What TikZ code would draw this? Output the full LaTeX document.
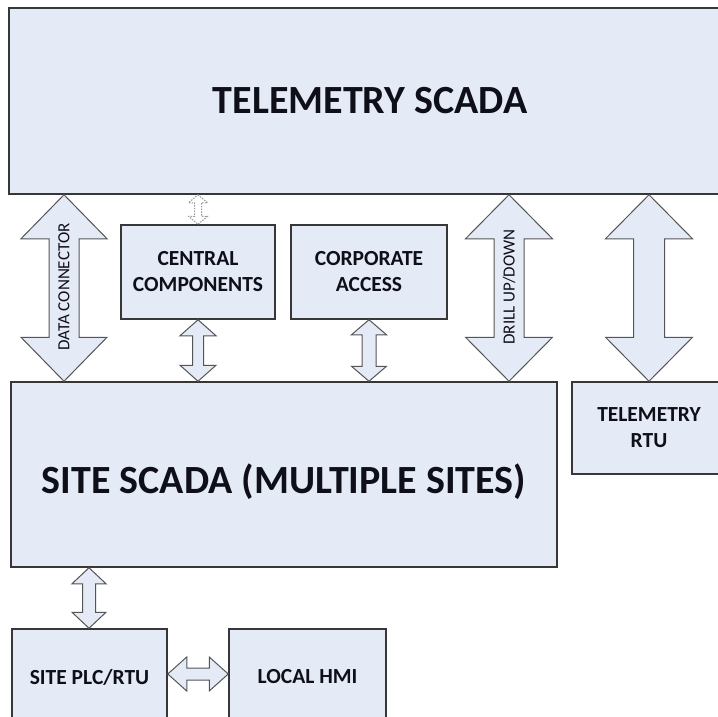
\documentclass[tikz,border=0pt]{standalone}
\usepackage{fontspec}
\setmainfont{Carlito}
\usetikzlibrary{calc}
\definecolor{boxfill}{RGB}{229,235,246}
\definecolor{boxline}{RGB}{55,55,55}
\definecolor{arrline}{RGB}{85,85,85}
\definecolor{txt}{RGB}{15,15,25}
\tikzset{
  blk/.style={draw=boxline, line width=1.5pt, fill=boxfill, rectangle, inner sep=0pt,
    align=center, text=txt, font=\bfseries\fontsize{21.5}{26}\selectfont},
  bigblk/.style={blk, font=\bfseries\fontsize{40}{46}\selectfont},
  bigtext/.style={inner sep=0pt, text=txt, font=\bfseries\fontsize{40}{46}\selectfont},
  arr/.style={draw=arrline, line width=1pt, fill=boxfill, line join=miter},
  dotarr/.style={draw=arrline!60, line width=1pt, dash pattern=on 1.5pt off 1.2pt, fill=white},
  arrlabel/.style={font=\fontsize{17}{17}\selectfont, text=txt, rotate=90, inner sep=0pt},
}
% vertical double arrow: style, top tip, bottom tip, shaft half width, head half width, head length
\newcommand\vdarrow[6]{%
  \path[#1] let \p1=(#2), \p2=(#3) in
    (\x1,\y1) -- (\x1+#5,\y1-#6) -- (\x1+#4,\y1-#6) -- (\x1+#4,\y2+#6) -- (\x1+#5,\y2+#6)
    -- (\x1,\y2) -- (\x1-#5,\y2+#6) -- (\x1-#4,\y2+#6) -- (\x1-#4,\y1-#6) -- (\x1-#5,\y1-#6) -- cycle;}
% horizontal double arrow: style, left tip, right tip, shaft half width, head half width, head length
\newcommand\hdarrow[6]{%
  \path[#1] let \p1=(#2), \p2=(#3) in
    (\x1,\y1) -- (\x1+#6,\y1+#5) -- (\x1+#6,\y1+#4) -- (\x2-#6,\y1+#4) -- (\x2-#6,\y1+#5)
    -- (\x2,\y1) -- (\x2-#6,\y1-#5) -- (\x2-#6,\y1-#4) -- (\x1+#6,\y1-#4) -- (\x1+#6,\y1-#5) -- cycle;}
\begin{document}
\begin{tikzpicture}[x=1pt, y=-1pt]
  \useasboundingbox (0,0) rectangle (718,717);
  \clip (0,0) rectangle (718,717);
  \fill[white] (0,0) rectangle (718,717);

  % boxes
  \node[bigblk, minimum width=722pt, minimum height=186pt] (tsc) at (370,101) {TELEMETRY SCADA};
  \node[blk, minimum width=154pt, minimum height=94pt] (cc) at (198,272) {CENTRAL\\COMPONENTS};
  \node[blk, minimum width=156pt, minimum height=94pt] (ca) at (369,272) {CORPORATE\\ACCESS};
  \node[blk, minimum width=546pt, minimum height=185pt] (ss) at (284,474.5) {};
  \node[bigtext, yshift=-7pt] (sst) at (ss.center) {SITE SCADA (MULTIPLE SITES)};
  \node[blk, minimum width=154pt, minimum height=92pt] (rtu) at (649,428) {TELEMETRY\\RTU};
  \node[blk, minimum width=155pt, minimum height=96pt] (plc) at (89.5,677) {SITE PLC/RTU};
  \node[blk, minimum width=157pt, minimum height=96pt] (hmi) at (307.5,677) {LOCAL HMI};

  % arrow axes
  \coordinate (xdc) at (64,0);
  \coordinate (xcc) at (198,0);
  \coordinate (xca) at (369,0);
  \coordinate (xdr) at (509,0);
  \coordinate (xrt) at (649,0);
  \coordinate (xpl) at (89,0);
  \coordinate (yhm) at (0,674);

  % connectors
  \vdarrow{arr}{tsc.south -| xdc}{ss.north -| xdc}{15pt}{43pt}{44pt}
  \vdarrow{dotarr}{tsc.south -| xcc}{cc.north -| xcc}{3.5pt}{9.5pt}{8pt}
  \vdarrow{arr}{cc.south -| xcc}{ss.north -| xcc}{5.5pt}{18pt}{16pt}
  \vdarrow{arr}{ca.south -| xca}{ss.north -| xca}{7pt}{17.5pt}{15pt}
  \vdarrow{arr}{tsc.south -| xdr}{ss.north -| xdr}{15pt}{43.5pt}{44pt}
  \vdarrow{arr}{tsc.south -| xrt}{rtu.north -| xrt}{15.5pt}{43.5pt}{44pt}
  \vdarrow{arr}{ss.south -| xpl}{plc.north -| xpl}{6.5pt}{17pt}{16pt}
  \hdarrow{arr}{plc.east |- yhm}{hmi.west |- yhm}{6pt}{17pt}{19pt}

  % connector labels
  \node[arrlabel] (dcl) at (64,287) {DATA CONNECTOR};
  \node[arrlabel] (drl) at (509,287) {DRILL UP/DOWN};
\end{tikzpicture}
\end{document}
